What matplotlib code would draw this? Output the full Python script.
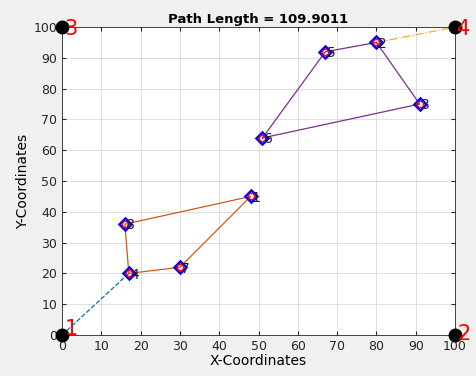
import matplotlib.pyplot as plt
import numpy as np

# depots (corners)
depot_x = [0, 100, 0, 100]
depot_y = [0, 0, 100, 100]
depot_lbl = ['1', '2', '3', '4']

# customers
cust_x = [48, 80, 91, 17, 67, 51, 30, 16]
cust_y = [45, 95, 75, 20, 92, 64, 22, 36]
cust_lbl = ['1', '2', '3', '4', '5', '6', '7', '8']

# routes (indices into customer lists)
route_a = [3, 6, 0, 7, 3]
route_b = [5, 4, 1, 2, 5]
path_len = 109.9011

c_blue = (0, 0.447, 0.741)
c_orange = (0.85, 0.325, 0.098)
c_yellow = (0.929, 0.694, 0.125)
c_purple = (0.494, 0.184, 0.556)

fig = plt.figure(figsize=(4.77, 3.76), dpi=100, facecolor='#f0f0f0')
ax = fig.add_axes([0.130, 0.109, 0.824, 0.819])
ax.set_facecolor('white')

cx = np.array(cust_x)
cy = np.array(cust_y)

# connection depot 1 -> first customer of route a
ax.plot([depot_x[0], cx[route_a[0]]], [depot_y[0], cy[route_a[0]]],
        '--', color=c_blue, lw=0.9)
ax.plot(cx[route_a], cy[route_a], '-', color=c_orange, lw=0.9)
# connection customer 2 -> depot 4
ax.plot([cx[1], depot_x[3]], [cy[1], depot_y[3]], '-.', color=c_yellow, lw=0.9)
ax.plot(cx[route_b], cy[route_b], '-', color=c_purple, lw=0.9)

ax.plot(cx, cy, 'D', ms=6.5, mfc='none', mec='blue', mew=1.8)
ax.plot(cx, cy, 'o', ms=4.5, mfc='none', mec='red', mew=1)
for x, y, t in zip(cust_x, cust_y, cust_lbl):
    ax.text(x + 0.3, y - 0.4, t, fontsize=10, ha='left', va='center', color='#222222')

ax.plot(depot_x, depot_y, 'o', ms=9, color='black', clip_on=False, zorder=5)
offs = [1.8, 0.4, -0.6, -0.6]
for x, y, t, o in zip(depot_x, depot_y, depot_lbl, offs):
    ax.text(x + 0.6, y + o, t, fontsize=15, color='red', ha='left', va='center',
            clip_on=False, zorder=6)

ax.set_xlim(0, 100)
ax.set_ylim(0, 100)
ax.set_xticks(range(0, 101, 10))
ax.set_yticks(range(0, 101, 10))
ax.tick_params(labelsize=9, direction='in', length=3, colors='#262626',
               top=True, right=True)
ax.grid(True, color='#d9d9d9', lw=0.6)
for s in ax.spines.values():
    s.set_color('#262626')
    s.set_linewidth(0.6)
ax.set_title(f'Path Length = {path_len:.4f}', fontsize=9.5, fontweight='bold', pad=3)
ax.set_xlabel('X-Coordinates', fontsize=10, labelpad=1)
ax.set_ylabel('Y-Coordinates', fontsize=10, labelpad=2)

fig.savefig('out.png', dpi=100, facecolor=fig.get_facecolor())
